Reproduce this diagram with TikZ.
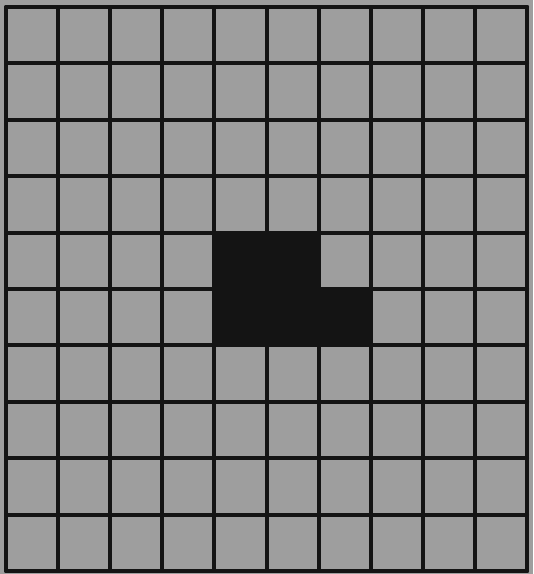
\documentclass[tikz,border=0pt]{standalone}
\usepackage{tikz}
\definecolor{papergrey}{HTML}{9E9E9E}
\definecolor{inkblack}{HTML}{141414}

\begin{document}
\begin{tikzpicture}[
    x=1.3cm, y=1.407cm,
    paper/.style={fill=papergrey},
    blackcell/.style={fill=inkblack},
    gridline/.style={line width=2.8pt, inkblack, line cap=round}
]
    \fill[paper] (-0.115,-0.053) rectangle (10.115,10.124);
    % filled squares
    \foreach \col in {4,5}
        \fill[blackcell] (\col,5) rectangle +(1,1);
    \foreach \col in {4,5,6}
        \fill[blackcell] (\col,4) rectangle +(1,1);
    % grid
    \foreach \i in {0,...,10} {
        \draw[gridline] (\i,0) -- (\i,10);
        \draw[gridline] (0,\i) -- (10,\i);
    }
\end{tikzpicture}
\end{document}
